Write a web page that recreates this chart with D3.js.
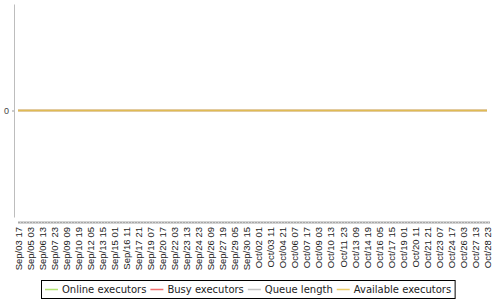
<!DOCTYPE html>
<html>
<head>
<meta charset="utf-8">
<script src="https://cdn.jsdelivr.net/npm/d3@7"></script>
<style>
  body { margin: 0; background: #fff; }
  svg { display: block; font-family: "DejaVu Sans", sans-serif; }
</style>
</head>
<body>
<svg id="chart"></svg>
<script>
const width = 500,
  height = 300,
  plot = {top: 4, right: 490, bottom: 217, left: 18};

// category labels (every shown tick of the load timeline)
const labels = ['Sep/03 17', 'Sep/05 03', 'Sep/06 13', 'Sep/07 23', 'Sep/09 09', 'Sep/10 19',
  'Sep/12 05', 'Sep/13 15', 'Sep/15 01', 'Sep/16 11', 'Sep/17 21', 'Sep/19 07', 'Sep/20 17',
  'Sep/22 03', 'Sep/23 13', 'Sep/24 23', 'Sep/26 09', 'Sep/27 19', 'Sep/29 05', 'Sep/30 15',
  'Oct/02 01', 'Oct/03 11', 'Oct/04 21', 'Oct/06 07', 'Oct/07 17', 'Oct/09 03', 'Oct/10 13',
  'Oct/11 23', 'Oct/13 09', 'Oct/14 19', 'Oct/16 05', 'Oct/17 15', 'Oct/19 01', 'Oct/20 11',
  'Oct/21 21', 'Oct/23 07', 'Oct/24 17', 'Oct/26 03', 'Oct/27 13', 'Oct/28 23'];

const onlineExecutors = [0,0,0,0,0,0,0,0,0,0,0,0,0,0,0,0,0,0,0,0,0,0,0,0,0,0,0,0,0,0,0,0,0,0,0,0,0,0,0,0];
const busyExecutors = [0,0,0,0,0,0,0,0,0,0,0,0,0,0,0,0,0,0,0,0,0,0,0,0,0,0,0,0,0,0,0,0,0,0,0,0,0,0,0,0];
const queueLength = [0,0,0,0,0,0,0,0,0,0,0,0,0,0,0,0,0,0,0,0,0,0,0,0,0,0,0,0,0,0,0,0,0,0,0,0,0,0,0,0];
const availableExecutors = [0,0,0,0,0,0,0,0,0,0,0,0,0,0,0,0,0,0,0,0,0,0,0,0,0,0,0,0,0,0,0,0,0,0,0,0,0,0,0,0];

const yTicks = [0];

const series = [
  {name: 'Online executors', values: onlineExecutors, color: '#9ddc4a'},
  {name: 'Busy executors', values: busyExecutors, color: '#ef4a4a'},
  {name: 'Queue length', values: queueLength, color: '#b4b4b4'},
  {name: 'Available executors', values: availableExecutors, color: '#e8c040'}
];

const svg = d3.select('#chart')
  .attr('width', width)
  .attr('height', height);

const x = d3.scalePoint()
  .domain(labels)
  .range([plot.left, 487]);

const y = d3.scaleLinear()
  .domain([-1, 1])
  .range([plot.bottom, plot.top]);

// range axis
const yAxis = svg.append('g')
  .attr('transform', `translate(${plot.left - 4},0)`)
  .call(d3.axisLeft(y).tickValues(yTicks).tickFormat(d3.format('d'))
    .tickSize(2).tickSizeOuter(0).tickPadding(3));
yAxis.select('.domain').attr('stroke', '#bdbdbd');
yAxis.selectAll('.tick line').attr('stroke', '#999');
yAxis.selectAll('text').attr('fill', '#444').style('font-size', '9px');

// domain axis band
svg.append('rect')
  .attr('x', plot.left)
  .attr('y', plot.bottom + 4)
  .attr('width', plot.right - plot.left)
  .attr('height', 3)
  .attr('fill', '#d4d4d4');
svg.append('line')
  .attr('x1', plot.left).attr('x2', plot.right)
  .attr('y1', plot.bottom + 5.5).attr('y2', plot.bottom + 5.5)
  .attr('stroke', '#a8a8a8')
  .attr('stroke-dasharray', '2,1');

const xAxis = svg.append('g')
  .attr('transform', `translate(0,${plot.bottom + 4})`)
  .call(d3.axisBottom(x).tickSize(0));
xAxis.select('.domain').remove();
xAxis.selectAll('text')
  .attr('x', 0).attr('y', 0).attr('dy', '0.35em')
  .attr('transform', 'translate(0,6) rotate(-90)')
  .attr('text-anchor', 'end')
  .attr('fill', '#222')
  .style('font-size', '9.5px');

// lines
const line = d3.line()
  .x((d, i) => x(labels[i]))
  .y(d => y(d));

series.forEach(s => {
  svg.append('path')
    .datum(s.values)
    .attr('fill', 'none')
    .attr('stroke', s.color)
    .attr('stroke-opacity', 0.8)
    .attr('stroke-width', 1.5)
    .attr('d', line);
});

// legend
const legend = svg.append('g');
const box = legend.append('rect')
  .attr('fill', '#fff')
  .attr('stroke', '#000');
let cx = 45;
series.forEach(s => {
  legend.append('line')
    .attr('x1', cx).attr('x2', cx + 13)
    .attr('y1', 289.5).attr('y2', 289.5)
    .attr('stroke', s.color)
    .attr('stroke-opacity', 0.8)
    .attr('stroke-width', 1.5);
  const t = legend.append('text')
    .attr('x', cx + 17)
    .attr('y', 289)
    .attr('dy', '0.35em')
    .attr('fill', '#222')
    .style('font-size', '10px')
    .text(s.name);
  cx += 17 + t.node().getComputedTextLength() + 4;
});
box.attr('x', 41.5).attr('y', 280.5)
  .attr('width', cx - 41.5)
  .attr('height', 18);
</script>
</body>
</html>
